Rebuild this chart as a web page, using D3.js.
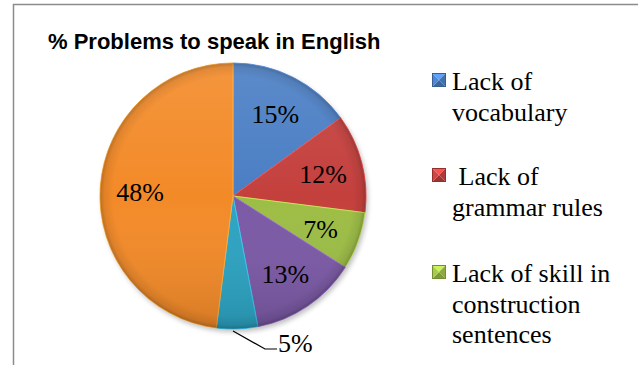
<!DOCTYPE html>
<html>
<head>
<meta charset="utf-8">
<script src="https://cdn.jsdelivr.net/npm/d3@7"></script>
<style>
  html, body { margin: 0; padding: 0; background: #fff; }
  svg { display: block; }
</style>
</head>
<body>
<svg id="chart" width="638" height="365"></svg>
<script>
// chart data
const categories = ["Lack of vocabulary", "Lack of grammar rules", "Lack of skill in construction sentences",
  "Other problem 4", "Other problem 5", "Other problem 6"];
const values = [15, 12, 7, 13, 5, 48];
const colors = ["#4a7ec4", "#c4403d", "#9cbd45", "#7b59a6", "#2ca3c2", "#f38a28"];
// legend lines as shown (only the first three items fit in the frame)
const legendLines = [["Lack of", "vocabulary"], [" Lack of", "grammar rules"], ["Lack of skill in", "construction", "sentences"]];
const title = "% Problems to speak in English";

const width = 638, height = 365;
const cx = 233, cy = 196, radius = 133;

const svg = d3.select("#chart");
const defs = svg.append("defs");

// outer frame (cropped on the right and bottom)
svg.append("path")
  .attr("d", `M13.5,${height}V4.5H${width}`)
  .attr("fill", "none")
  .attr("stroke", "#8c8c8c")
  .attr("stroke-width", 1.5);

// title
svg.append("text")
  .attr("x", 48)
  .attr("y", 49)
  .attr("font-family", "'Liberation Sans', Arial, sans-serif")
  .attr("font-weight", "bold")
  .attr("font-size", 22)
  .attr("fill", "#000")
  .text(title);

// gradients for bevel-ish look
const shade = defs.append("linearGradient").attr("id", "shade")
  .attr("x1", 0).attr("y1", 0).attr("x2", 0).attr("y2", 1);
shade.append("stop").attr("offset", "0%").attr("stop-color", "#fff").attr("stop-opacity", 0.1);
shade.append("stop").attr("offset", "50%").attr("stop-color", "#fff").attr("stop-opacity", 0);
shade.append("stop").attr("offset", "100%").attr("stop-color", "#000").attr("stop-opacity", 0.12);

const rim = defs.append("radialGradient").attr("id", "rim")
  .attr("cx", "50%").attr("cy", "50%").attr("r", "50%");
rim.append("stop").attr("offset", "90%").attr("stop-color", "#000").attr("stop-opacity", 0);
rim.append("stop").attr("offset", "97%").attr("stop-color", "#000").attr("stop-opacity", 0.08);
rim.append("stop").attr("offset", "100%").attr("stop-color", "#000").attr("stop-opacity", 0.22);

const blur = defs.append("filter").attr("id", "shadow")
  .attr("x", "-20%").attr("y", "-20%").attr("width", "140%").attr("height", "140%");
blur.append("feGaussianBlur").attr("stdDeviation", 2.5);

const pie = d3.pie().sort(null).value(d => d);
const arcs = pie(values);
const arc = d3.arc().innerRadius(0).outerRadius(radius);
const labelArc = d3.arc().innerRadius(radius * 0.7).outerRadius(radius * 0.7);

const g = svg.append("g").attr("transform", `translate(${cx},${cy})`);

// soft shadow
g.append("circle")
  .attr("cx", 2).attr("cy", 3).attr("r", radius)
  .attr("fill", "#000").attr("opacity", 0.25)
  .attr("filter", "url(#shadow)");

g.selectAll("path.slice")
  .data(arcs)
  .join("path")
  .attr("class", "slice")
  .attr("d", arc)
  .attr("fill", (d, i) => colors[i])
  .attr("stroke", (d, i) => d3.color(colors[i]).brighter(0.6))
  .attr("stroke-width", 1)
  .attr("stroke-linejoin", "round");

g.append("circle").attr("r", radius).attr("fill", "url(#shade)");
g.append("circle").attr("r", radius).attr("fill", "url(#rim)");

// data labels
const labelFont = "'Liberation Serif', 'Times New Roman', serif";
g.selectAll("text.label")
  .data(arcs.filter(d => d.data >= 7))
  .join("text")
  .attr("class", "label")
  .attr("transform", d => `translate(${labelArc.centroid(d)})`)
  .attr("text-anchor", "middle")
  .attr("dy", "0.4em")
  .attr("font-family", labelFont)
  .attr("font-size", 26)
  .text(d => d.data + "%");

// small slice: label outside with leader line
arcs.filter(d => d.data < 7).forEach(d => {
  const a = d.startAngle + (d.endAngle - d.startAngle) * 0.6;
  const p0 = [radius * Math.sin(a), -radius * Math.cos(a) + 2];
  const p1 = [p0[0] + 32, p0[1] + 18];
  const p2 = [p1[0] + 12, p1[1]];
  g.append("path")
    .attr("d", d3.line()([p0, p1, p2]))
    .attr("fill", "none")
    .attr("stroke", "#000")
    .attr("stroke-width", 1.2);
  g.append("text")
    .attr("x", p2[0] + 1)
    .attr("y", p2[1] + 3)
    .attr("font-family", labelFont)
    .attr("font-size", 26)
    .text(d.data + "%");
});

// legend
const legend = svg.append("g");
const itemTop = [90, 185, 282];
legendLines.forEach((lines, i) => {
  const base = itemTop[i];
  const x0 = 432, y0 = base - 17, s = 14;
  const c = d3.color(colors[i]);
  const mid = [x0 + s / 2, y0 + s / 2];
  const sq = legend.append("g");
  const tris = [
    [[x0, y0], [x0 + s, y0], mid, c.brighter(0.7)],
    [[x0 + s, y0], [x0 + s, y0 + s], mid, c.darker(0.3)],
    [[x0, y0 + s], [x0 + s, y0 + s], mid, c.darker(0.6)],
    [[x0, y0], [x0, y0 + s], mid, c.brighter(0.2)]
  ];
  tris.forEach(t => {
    sq.append("path")
      .attr("d", d3.line()([t[0], t[1], t[2]]) + "Z")
      .attr("fill", t[3]);
  });
  sq.append("rect").attr("x", x0 + 0.5).attr("y", y0 + 0.5).attr("width", s - 1).attr("height", s - 1)
    .attr("fill", "none").attr("stroke", c.darker(0.8)).attr("stroke-width", 1);
  const t = legend.append("text")
    .attr("font-family", labelFont)
    .attr("font-size", 26)
    .style("white-space", "pre");
  lines.forEach((ln, j) => {
    t.append("tspan").attr("x", 452).attr("y", base + j * 30.5).text(ln);
  });
});
</script>
</body>
</html>
